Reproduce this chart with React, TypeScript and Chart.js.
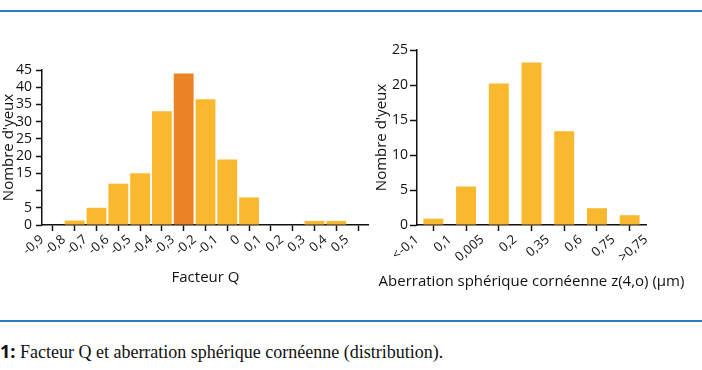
import React, { useEffect, useRef } from 'react';
import { Chart, registerables } from 'chart.js';

Chart.register(...registerables);

// ---- Left chart: Facteur Q ----
const qBinCenters = [-0.85, -0.75, -0.65, -0.55, -0.45, -0.35, -0.25, -0.15, -0.05, 0.05, 0.15, 0.25, 0.35, 0.45, 0.55];
const qCounts = [0, 1.3, 5, 12, 15, 33, 44, 36.5, 19, 8, 0, 0, 1.2, 1.2, 0];
const qHighlightIndex = 6;
const qXTickLabels = ['-0,9', '-0,8', '-0,7', '-0,6', '-0,5', '-0,4', '-0,3', '-0,2', '-0,1', '0', '0,1', '0,2', '0,3', '0,4', '0,5', ''];
const qYTickLabels = ['0', '5', '', '15', '20', '25', '30', '35', '40', '45'];

// ---- Right chart: Aberration sphérique ----
const saBinCenters = [0.5, 1.5, 2.5, 3.5, 4.5, 5.5, 6.5];
const saCounts = [0.9, 5.5, 20.2, 23.2, 13.4, 2.4, 1.4];
const saXTickLabels = ['<-0,1', '0,1', '0,005', '0,2', '0,35', '0,6', '0,75', '>0,75'];
const saYTickLabels = ['0', '5', '10', '15', '20', '25'];

const yTitle = "Nombre d'yeux";
const qXTitle = 'Facteur Q';
const saXTitle = 'Aberration sphérique cornéenne z(4,o) (µm)';

const YELLOW = '#F9B92F';
const ORANGE = '#EC8324';
const INK = '#111111';
const SANS = "'Open Sans', 'DejaVu Sans', sans-serif";

function makeChart(
  canvas: HTMLCanvasElement,
  xs: number[],
  ys: number[],
  colors: string[],
  xMin: number,
  xMax: number,
  xStep: number,
  xLabels: string[],
  yMax: number,
  yStep: number,
  yLabels: string[],
  xTitle: string,
  xTitleY: number,
  barPct: number,
  layoutPadding: any,
  yWidth: number,
  xHeight: number,
  yTickLen: number,
  yTickPad: number
) {
  const xTitlePlugin = {
    id: 'xTitleFree',
    afterDraw(chart: any) {
      const { ctx, chartArea } = chart;
      ctx.save();
      ctx.font = `15px ${SANS}`;
      ctx.fillStyle = INK;
      ctx.textAlign = 'center';
      ctx.textBaseline = 'middle';
      ctx.fillText(xTitle, (chartArea.left + chartArea.right) / 2, xTitleY);
      ctx.restore();
    },
  };
  return new Chart(canvas, {
    type: 'bar',
    data: {
      datasets: [
        {
          data: xs.map((x, i) => ({ x, y: ys[i] })),
          backgroundColor: colors,
          borderWidth: 0,
          barPercentage: barPct,
          categoryPercentage: 1,
        },
      ],
    },
    plugins: [xTitlePlugin],
    options: {
      responsive: false,
      animation: false,
      layout: { padding: layoutPadding },
      plugins: { legend: { display: false }, tooltip: { enabled: false }, title: { display: false } },
      scales: {
        x: {
          type: 'linear',
          min: xMin,
          max: xMax,
          offset: false,
          border: { display: true, color: INK, width: 1.5 },
          grid: { display: true, drawOnChartArea: false, drawTicks: true, tickColor: INK, tickWidth: 1.5, tickLength: 6 },
          ticks: {
            stepSize: xStep,
            autoSkip: false,
            minRotation: 40,
            maxRotation: 40,
            padding: 1,
            color: INK,
            font: { family: SANS, size: 13 },
            callback: (_v: any, i: number) => xLabels[i] ?? '',
          },
          title: { display: false },
          afterFit: (s: any) => {
            s.height = xHeight;
          },
        },
        y: {
          type: 'linear',
          min: 0,
          max: yMax,
          border: { display: true, color: INK, width: 1.5 },
          grid: { display: true, drawOnChartArea: false, drawTicks: true, tickColor: INK, tickWidth: 1.5, tickLength: yTickLen },
          ticks: {
            stepSize: yStep,
            autoSkip: false,
            padding: yTickPad,
            color: INK,
            font: { family: SANS, size: 14 },
            callback: (_v: any, i: number) => yLabels[i] ?? '',
          },
          title: {
            display: true,
            text: yTitle,
            color: INK,
            font: { family: SANS, size: 15 },
            padding: { top: 0, bottom: 0 },
          },
          afterFit: (s: any) => {
            s.width = yWidth;
          },
        },
      },
    } as any,
  });
}

function BarPanel(props: { kind: 'q' | 'sa'; width: number; height: number }) {
  const ref = useRef<HTMLCanvasElement | null>(null);
  useEffect(() => {
    if (!ref.current) return;
    let chart: Chart;
    if (props.kind === 'q') {
      chart = makeChart(
        ref.current,
        qBinCenters,
        qCounts,
        qCounts.map((_, i) => (i === qHighlightIndex ? ORANGE : YELLOW)),
        -0.9,
        0.6,
        0.1,
        qXTickLabels,
        45,
        5,
        qYTickLabels,
        qXTitle,
        238,
        0.91,
        { left: 0, right: 8, top: 30, bottom: 0 },
        42,
        75,
        6,
        4
      );
    } else {
      chart = makeChart(
        ref.current,
        saBinCenters,
        saCounts,
        saCounts.map(() => YELLOW),
        0,
        7,
        1,
        saXTickLabels,
        25,
        5,
        saYTickLabels,
        saXTitle,
        282,
        0.61,
        { left: 13, right: 56, top: 50, bottom: 0 },
        44,
        75,
        7,
        2
      );
    }
    return () => chart.destroy();
  }, [props.kind]);
  return <canvas ref={ref} width={props.width} height={props.height} style={{ display: 'block' }} />;
}

export default function App() {
  return (
    <div style={{ position: 'absolute', left: 0, top: 0, width: 702, height: 370, background: '#fff', overflow: 'hidden' }}>
      <div style={{ position: 'absolute', left: 0, top: 10, width: 702, height: 2, background: '#2B7BC2' }} />
      <div style={{ position: 'absolute', left: 0, top: 40 }}>
        <BarPanel kind="q" width={380} height={260} />
      </div>
      <div style={{ position: 'absolute', left: 360, top: 0 }}>
        <BarPanel kind="sa" width={342} height={300} />
      </div>
      <div style={{ position: 'absolute', left: 0, top: 320, width: 702, height: 2, background: '#2B7BC2' }} />
      <div
        style={{
          position: 'absolute',
          left: 0,
          top: 340,
          fontFamily: "'Liberation Serif', 'DejaVu Serif', serif",
          fontSize: 18,
          lineHeight: '22px',
          color: '#111',
          whiteSpace: 'nowrap',
        }}
      >
        <b style={{ fontFamily: "'Open Sans', sans-serif" }}>1:</b> Facteur Q et aberration sphérique cornéenne (distribution).
      </div>
    </div>
  );
}
